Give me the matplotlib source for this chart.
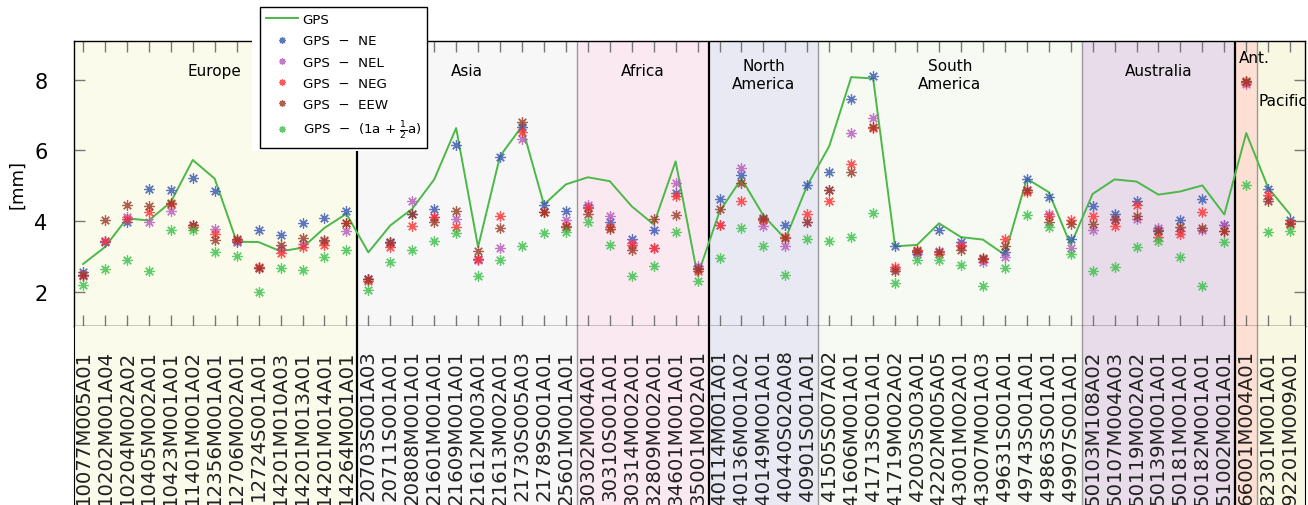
import matplotlib
matplotlib.use("Agg")
import matplotlib.pyplot as plt
from matplotlib.patches import Rectangle

# station codes, grouped by region
stations = [
    "10077M005A01", "10202M001A04", "10204M002A02", "10405M002A01", "10423M001A01",
    "11401M001A02", "12356M001A01", "12706M002A01", "12724S001A01", "14201M010A03",
    "14201M013A01", "14201M014A01", "14264M001A01",
    "20703S001A03", "20711S001A01", "20808M001A01", "21601M001A01", "21609M001A01",
    "21612M003A01", "21613M002A01", "21730S005A03", "21789S001A01", "25601M001A01",
    "30302M004A01", "30310S001A01", "30314M002A01", "32809M002A01", "34601M001A01",
    "35001M002A01",
    "40114M001A01", "40136M001A02", "40149M001A01", "40440S020A08", "40901S001A01",
    "41505S007A02", "41606M001A01", "41713S001A01", "41719M002A02", "42003S003A01",
    "42202M005A05", "43001M002A01", "43007M001A03", "49631S001A01", "49743S001A01",
    "49863S001A01", "49907S001A01",
    "50103M108A02", "50107M004A03", "50119M002A02", "50139M001A01", "50181M001A01",
    "50182M001A01", "51002M001A01",
    "66001M004A01",
    "82301M001A01", "92201M009A01",
]

regions = ["Europe", "Asia", "Africa", "North\nAmerica", "South\nAmerica",
           "Australia", "Ant.", "Pacific"]
region_sizes = [13, 10, 6, 5, 12, 7, 1, 2]

# values in mm
gps = [2.79, 3.27, 4.08, 4.02, 4.54, 5.73, 5.20, 3.42, 3.41, 3.15, 3.25, 3.81, 4.21,
       3.12, 3.88, 4.35, 5.18, 6.63, 3.27, 5.84, 6.68, 4.47, 5.04,
       5.24, 5.13, 4.42, 3.91, 5.69, 2.46,
       4.27, 5.20, 4.16, 3.50, 5.01,
       6.12, 8.07, 8.03, 3.29, 3.33, 3.94, 3.55, 3.48, 3.05, 5.20, 4.82, 3.33,
       4.77, 5.18, 5.12, 4.75, 4.84, 5.01, 4.19,
       6.49,
       4.94, 4.19]
ne = [2.57, 3.41, 3.99, 4.91, 4.88, 5.21, 4.85, 3.41, 3.76, 3.61, 3.94, 4.08, 4.28,
      2.37, 3.41, 4.20, 4.35, 6.14, 2.92, 5.81, 6.65, 4.47, 4.30,
      4.39, 3.99, 3.50, 3.75, 4.79, 2.67,
      4.63, 5.31, 4.07, 3.90, 5.03,
      5.38, 7.44, 8.10, 3.29, 3.12, 3.74, 3.41, 2.94, 3.12, 5.20, 4.68, 3.50,
      4.42, 4.21, 4.58, 3.76, 4.04, 4.63, 3.88,
      7.94,
      4.91, 4.02]
nel = [2.45, 3.45, 4.11, 3.99, 4.30, 3.88, 3.78, 3.45, 2.67, 3.22, 3.36, 3.45, 3.71,
       2.37, 3.39, 4.56, 4.11, 4.07, 2.89, 3.24, 6.31, 4.25, 4.02,
       4.47, 4.14, 3.39, 3.24, 5.08, 2.73,
       3.90, 5.50, 3.86, 3.31, 3.97,
       4.87, 6.49, 6.92, 2.65, 3.08, 3.15, 3.33, 2.84, 2.98, 4.87, 4.21, 3.24,
       3.76, 4.02, 4.05, 3.80, 3.71, 3.74, 3.88,
       7.88,
       4.63, 3.94]
neg = [2.48, 3.43, 4.07, 4.25, 4.49, 3.83, 3.64, 3.47, 2.70, 3.10, 3.27, 3.33, 3.94,
       2.30, 3.27, 3.86, 4.11, 3.83, 2.92, 4.14, 6.53, 4.25, 3.86,
       4.38, 3.83, 3.33, 3.24, 4.71, 2.58,
       3.90, 4.58, 4.02, 3.55, 4.21,
       4.58, 5.62, 6.63, 2.70, 3.20, 3.08, 3.31, 2.94, 3.50, 4.82, 4.16, 4.02,
       4.16, 3.86, 4.47, 3.55, 3.64, 4.25, 3.71,
       7.93,
       4.75, 3.94]
eew = [2.48, 4.04, 4.47, 4.42, 4.51, 3.88, 3.48, 3.50, 2.67, 3.33, 3.52, 3.47, 3.94,
       2.37, 3.41, 4.19, 3.99, 4.30, 3.17, 3.80, 6.80, 4.25, 3.83,
       4.21, 3.78, 3.20, 4.05, 4.18, 2.65,
       4.35, 5.08, 4.09, 3.52, 3.97,
       4.87, 5.38, 6.65, 2.58, 3.17, 3.12, 3.20, 2.95, 3.31, 4.87, 3.97, 3.92,
       3.92, 4.05, 4.16, 3.71, 3.83, 3.81, 3.72,
       7.97,
       4.58, 3.92]
one_half = [2.20, 2.65, 2.89, 2.59, 3.76, 3.76, 3.12, 3.01, 2.01, 2.67, 2.63, 2.98, 3.20,
            2.07, 2.86, 3.20, 3.45, 3.67, 2.44, 2.89, 3.31, 3.67, 3.69,
            3.97, 3.34, 2.44, 2.73, 3.69, 2.30,
            2.96, 3.80, 3.31, 2.48, 3.50,
            3.43, 3.55, 4.23, 2.26, 2.89, 2.89, 2.75, 2.18, 2.67, 4.18, 3.83, 3.06,
            2.58, 2.72, 3.27, 3.45, 2.98, 2.18, 3.41,
            5.01,
            3.69, 3.71]

region_colors = ["#fbfbec", "#f7f7f7", "#fbe9f1", "#e9e9f4", "#f6faf2",
                 "#e8dcea", "#fde0d3", "#f8f8e2"]
# border after each region: thick black or thin gray
thick_border = [True, False, True, False, False, True, False]

fig = plt.figure(figsize=(13.08, 5.06), dpi=100)
ax = fig.add_axes([0.0566, 0.3538, 0.941, 0.5632])
axl = fig.add_axes([0.0566, 0.0, 0.941, 0.3538])

xlim = (-0.41, 55.67)
n = len(stations)
x = list(range(n))

# region shading and borders, in both the data axes and the label strip
start = -0.5
for k, (size, col) in enumerate(zip(region_sizes, region_colors)):
    lo = max(start, xlim[0]) if k == 0 else start
    hi = start + size if k < len(region_sizes) - 1 else xlim[1]
    for a in (ax, axl):
        a.axvspan(lo, hi, color=col, zorder=0, lw=0)
    if k < len(thick_border):
        for a in (ax, axl):
            if thick_border[k]:
                a.axvline(hi, color="black", lw=1.6, zorder=1)
            else:
                a.axvline(hi, color="#999999", lw=1.0, zorder=1)
    start += size

# region titles
centers = []
start = -0.5
for size in region_sizes:
    centers.append(start + size / 2)
    start += size
label_y = [8.27, 8.27, 8.27, 8.13, 8.13, 8.27, 8.62, 7.42]
label_dx = [0, 0, 0, 0, 0, 0, 0.35, 0.15]
for name, cx, cy, dx in zip(regions, centers, label_y, label_dx):
    ax.text(cx + dx, cy, name, ha="center", va="center", fontsize=11,
            linespacing=1.25, zorder=3)

ax.plot(x, gps, color="#4cb847", lw=1.4, label="GPS", zorder=4)
ast = (8, 2, 0)
series = [
    (ne, "#3656b0", "GPS  \u2212  NE"),
    (nel, "#b45ab8", "GPS  \u2212  NEL"),
    (neg, "#ff3030", "GPS  \u2212  NEG"),
    (eew, "#993a26", "GPS  \u2212  EEW"),
    (one_half, "#3cbf4a", r"GPS  $-$  (1a $+$ $\frac{1}{2}$a)"),
]
for vals, col, lab in series:
    ax.plot(x, vals, linestyle="none", marker=ast, markersize=7.5,
            markeredgewidth=0.9, color=col, alpha=0.8, label=lab, zorder=5)

ax.set_xlim(xlim)
ax.set_ylim(1.04, 9.09)
ax.set_xticks(x)
ax.set_xticklabels([])
ax.set_yticks([2, 4, 6, 8])
ax.tick_params(axis="x", direction="in", top=True, bottom=True, length=8,
               color="#777777", width=1)
ax.tick_params(axis="y", direction="in", left=True, right=True, length=8,
               color="#777777", width=1, labelsize=15, pad=19)
ax.set_ylabel("[mm]", fontsize=13, labelpad=6)
for sp in ax.spines.values():
    sp.set_color("black")
    sp.set_linewidth(1.0)
    sp.set_zorder(6)

# station labels in the strip below
axl.set_xlim(xlim)
axl.set_ylim(0, 1)
axl.set_xticks([])
axl.set_yticks([])
axl.spines["top"].set_visible(False)
axl.spines["bottom"].set_visible(False)
for i, s in enumerate(stations):
    axl.text(i, 0.87, s, rotation=90, ha="center", va="top", fontsize=14.2,
             color="#222222")

# white backing behind the legend
fig.patches.append(Rectangle((252 / 1308, 1 - 152 / 506), 173 / 1308, 152 / 506,
                             transform=fig.transFigure, facecolor="white",
                             edgecolor="none", zorder=10))
leg = ax.legend(loc="upper left", bbox_to_anchor=(260 / 1308, 1 - 8 / 506),
                bbox_transform=fig.transFigure, borderaxespad=0, fontsize=9.6,
                frameon=True, fancybox=False, framealpha=1, edgecolor="black",
                handlelength=2.4, handletextpad=0.35, labelspacing=0.62,
                borderpad=0.45, markerscale=0.65)
leg.get_frame().set_linewidth(1.0)
# keep the legend drawn on the figure so it sits above the white backing
leg.remove()
fig.legends.append(leg)
leg.set_zorder(11)

fig.savefig("out.png", dpi=100)
